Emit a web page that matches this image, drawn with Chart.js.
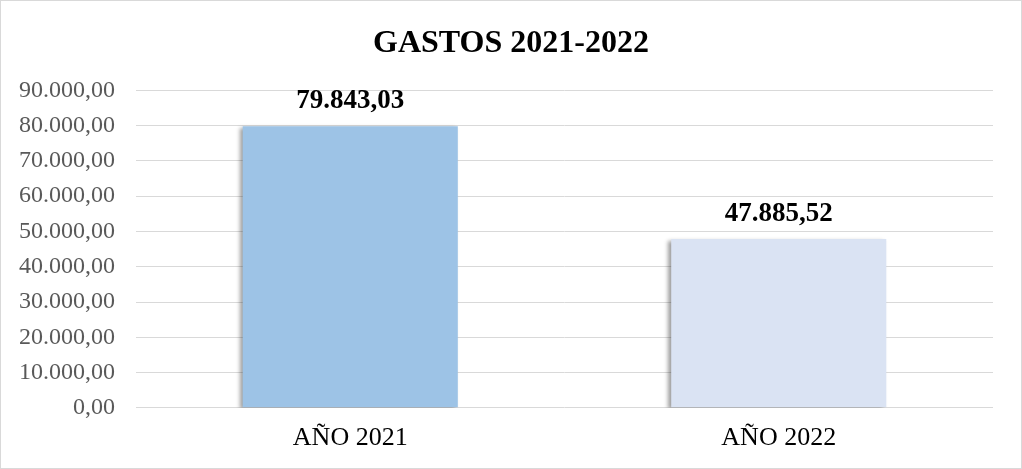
<!DOCTYPE html>
<html>
<head>
<meta charset="utf-8">
<script src="https://cdn.jsdelivr.net/npm/chart.js@4/dist/chart.umd.min.js"></script>
<style>
  html, body { margin: 0; padding: 0; background: #ffffff; }
  #wrap { width: 1022px; height: 469px; position: relative; }
</style>
</head>
<body>
<div id="wrap"><canvas id="c" width="1022" height="469"></canvas></div>
<script>
const categories = ["AÑO 2021", "AÑO 2022"];
const gastos = [79843.03, 47885.52];
const barColors = ["#9DC3E6", "#DAE3F3"];
const chartTitle = "GASTOS 2021-2022";
const yMax = 90000;
const yStep = 10000;

function fmtEs(v) {
  const parts = Math.abs(v).toFixed(2).split(".");
  const intPart = parts[0].replace(/\B(?=(\d{3})+(?!\d))/g, ".");
  return (v < 0 ? "-" : "") + intPart + "," + parts[1];
}

const frame = {
  id: "frame",
  afterDraw(chart) {
    const ctx = chart.ctx;
    ctx.save();
    ctx.strokeStyle = "#D9D9D9";
    ctx.lineWidth = 1;
    ctx.strokeRect(0.5, 0.5, chart.width - 1, chart.height - 1);
    ctx.restore();
  }
};

const barShadow = {
  id: "barShadow",
  beforeDatasetDraw(chart) {
    const ctx = chart.ctx;
    ctx.save();
    ctx.shadowColor = "rgba(0,0,0,0.38)";
    ctx.shadowBlur = 4;
    ctx.shadowOffsetX = -3;
    ctx.shadowOffsetY = 2;
  },
  afterDatasetDraw(chart) {
    chart.ctx.restore();
  }
};

const valueLabels = {
  id: "valueLabels",
  afterDatasetsDraw(chart) {
    const ctx = chart.ctx;
    const meta = chart.getDatasetMeta(0);
    ctx.save();
    ctx.font = "bold 27px 'Liberation Serif', serif";
    ctx.fillStyle = "#000000";
    ctx.textAlign = "center";
    ctx.textBaseline = "middle";
    meta.data.forEach((bar, i) => {
      ctx.fillText(fmtEs(gastos[i]), bar.x, bar.y - 25);
    });
    ctx.restore();
  }
};

new Chart(document.getElementById("c"), {
  type: "bar",
  data: {
    labels: categories,
    datasets: [{
      data: gastos,
      backgroundColor: barColors,
      borderWidth: 0,
      categoryPercentage: 1.0,
      barPercentage: 0.502
    }]
  },
  options: {
    responsive: false,
    animation: false,
    devicePixelRatio: 1,
    layout: { padding: { left: 0, right: 0, top: 0, bottom: 0 } },
    plugins: {
      legend: { display: false },
      tooltip: { enabled: false },
      title: {
        display: true,
        text: chartTitle,
        color: "#000000",
        font: { family: "'Liberation Serif', serif", size: 32, weight: "bold" },
        padding: { top: 25, bottom: 27 }
      }
    },
    scales: {
      x: {
        grid: { display: false, drawTicks: false },
        border: { display: false },
        ticks: {
          color: "#000000",
          font: { family: "'Liberation Serif', serif", size: 26 },
          padding: 15
        }
      },
      y: {
        min: 0,
        max: yMax,
        grid: { color: "#D9D9D9", lineWidth: 1, drawTicks: false },
        border: { display: false },
        afterFit(scale) { scale.width = 136; },
        ticks: {
          stepSize: yStep,
          color: "#595959",
          font: { family: "'Liberation Serif', serif", size: 24 },
          padding: 21,
          callback: (v) => fmtEs(v)
        }
      },
      yRight: {
        position: "right",
        min: 0,
        max: yMax,
        grid: { display: false, drawTicks: false },
        border: { display: false },
        ticks: { display: false },
        afterFit(scale) { scale.width = 29; }
      }
    }
  },
  plugins: [frame, barShadow, valueLabels]
});
</script>
</body>
</html>
